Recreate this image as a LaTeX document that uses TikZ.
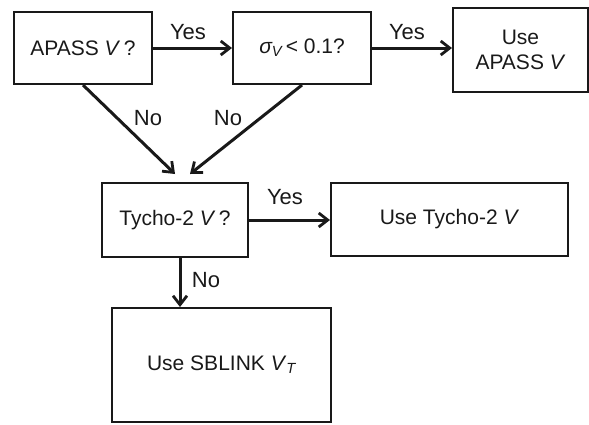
\documentclass[tikz,border=0pt]{standalone}
\usepackage{fontspec}
\setmainfont{Liberation Sans}
\usetikzlibrary{arrows.meta}
\begin{document}
\begin{tikzpicture}[x=1pt,y=-1pt,
  box/.style={draw=black!90,line width=2pt,inner sep=0pt,align=center,font=\fontsize{21}{25}\selectfont,text=black!90},
  arr/.style={draw=black!90,line width=3pt,-{Straight Barb[length=9pt,width=14pt,line width=2.8pt]}},
  lbl/.style={font=\fontsize{22}{26}\selectfont,text=black!90}]
\useasboundingbox (0,0) rectangle (589,424);
\node[box,minimum width=138pt,minimum height=72pt] (b1) at (83,48) {APASS \textit{V}\,?};
\node[box,minimum width=138pt,minimum height=72pt] (b2) at (302,48) {{\itshape σ}\textsubscript{\itshape V}\,< 0.1?};
\node[box,minimum width=135pt,minimum height=84pt] (b3) at (520.5,50) {Use\\APASS \textit{V}};
\node[box,minimum width=146pt,minimum height=74pt] (b4) at (175,220) {Tycho-2 \textit{V}\,?};
\node[box,minimum width=237pt,minimum height=73pt] (b5) at (449.5,219.5) {Use Tycho-2 \textit{V}};
\node[box,minimum width=219pt,minimum height=114pt] (b6) at (221.5,365) {Use SBLINK \textit{V}\textsubscript{\itshape T}};
\coordinate (t1) at (175,174);
\coordinate (t2) at (190,174);
\draw[arr] (b1.east) -- (b2.west);
\draw[arr] (b2.east) -- (b3.west |- b2.east);
\draw[arr] (b1.south) -- (t1);
\draw[arr] (b2.south) -- (t2);
\draw[arr] (b4.east) -- (b5.west |- b4.east);
\draw[arr] ([xshift=5pt]b4.south) -- ([xshift=5pt]b4.south |- b6.north);
\node[lbl] (y1) at (188,32) {Yes};
\node[lbl] (y2) at (407,32) {Yes};
\node[lbl] (y3) at (285,197) {Yes};
\node[lbl] (n1) at (148,118) {No};
\node[lbl] (n2) at (228,118) {No};
\node[lbl] (n3) at (206,280) {No};
\end{tikzpicture}
\end{document}
